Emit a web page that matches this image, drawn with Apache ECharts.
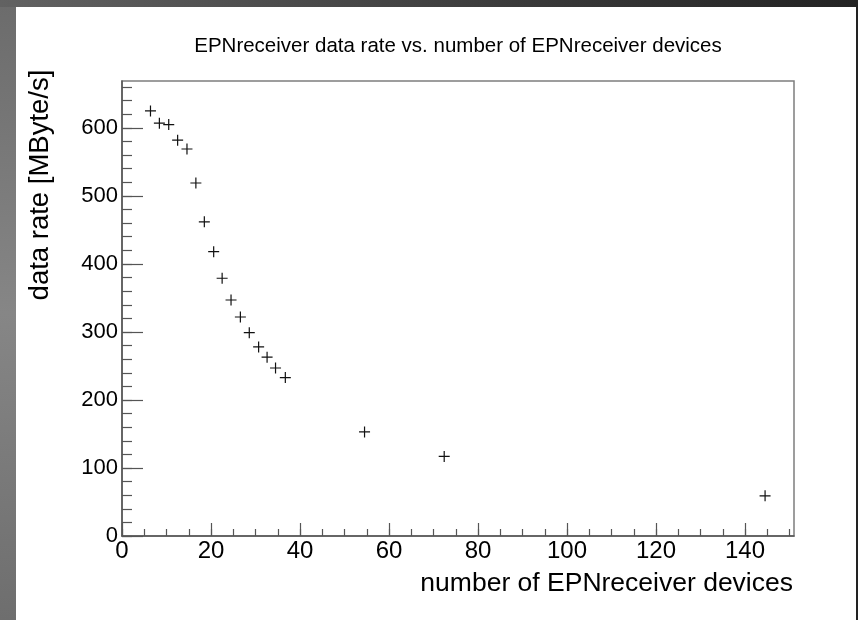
<!DOCTYPE html>
<html>
<head>
<meta charset="utf-8">
<script src="https://cdn.jsdelivr.net/npm/echarts@6/dist/echarts.min.js"></script>
<style>
  html, body { margin: 0; padding: 0; width: 858px; height: 620px; overflow: hidden; }
  body { position: relative; background: #fff; }
  #topband { position: absolute; left: 0; top: 0; width: 858px; height: 7px;
    background: linear-gradient(to right, #626262, #3a3a3a 60%, #232323); }
  #leftband { position: absolute; left: 0; top: 7px; width: 16px; height: 613px;
    background: linear-gradient(to bottom, #6c6c6c, #868686 50%, #6e6e6e); }
  #rightband { position: absolute; right: 0; top: 7px; width: 2px; height: 613px; background: #222; }
  #chart { position: absolute; left: 0; top: 0; width: 858px; height: 620px; }
</style>
</head>
<body>
<div id="topband"></div>
<div id="leftband"></div>
<div id="rightband"></div>
<div id="chart"></div>
<script>
// ---- data ----
const devices = [6.4, 8.4, 10.5, 12.5, 14.6, 16.6, 18.5, 20.6, 22.5, 24.5, 26.6, 28.6, 30.7, 32.6, 34.5, 36.7, 54.5, 72.4, 144.5];
const dataRate = [625, 607, 605, 582, 569, 519, 462, 418, 379, 347, 322, 299, 278, 263, 247, 233, 153, 117, 59];
const xTickLabels = [0, 20, 40, 60, 80, 100, 120, 140];
const yTickLabels = [0, 100, 200, 300, 400, 500, 600];
const xMinorStep = 5;
const yMinorStep = 20;

const titleText = 'EPNreceiver data rate vs. number of EPNreceiver devices';
const xTitle = 'number of EPNreceiver devices';
const yTitle = 'data rate [MByte/s]';

const X_MIN = 0, X_MAX = 151, Y_MIN = 0, Y_MAX = 669;
const FONT = '"Liberation Sans", Arial, Helvetica, sans-serif';
const AXIS_COLOR = '#555';
const FRAME_COLOR = '#7d7d7d';

const points = devices.map((d, i) => [d, dataRate[i]]);
function stepsBelow(max, step) { const out = []; for (let v = 0; v <= max; v += step) out.push(v); return out; }
const xMinorTicks = stepsBelow(X_MAX - 0.5, xMinorStep);
const yMinorTicks = stepsBelow(Y_MAX - 0.5, yMinorStep);

const chart = echarts.init(document.getElementById('chart'), null, { renderer: 'canvas' });

chart.setOption({
  backgroundColor: 'transparent',
  animation: false,
  title: {
    text: titleText,
    left: 458,
    textAlign: 'center',
    top: 36,
    padding: 0,
    textStyle: { fontFamily: FONT, fontSize: 20.5, fontWeight: 'normal', color: '#000' }
  },
  grid: {
    left: 122, right: 64, top: 81, bottom: 84,
    containLabel: false, outerBoundsMode: 'none',
    show: true, borderColor: FRAME_COLOR, borderWidth: 1.5, backgroundColor: 'transparent'
  },
  graphic: [
    {
      type: 'text', x: 793, y: 584, silent: true,
      style: { text: xTitle, font: '26.5px ' + FONT, fill: '#000', align: 'right', verticalAlign: 'middle' }
    },
    {
      type: 'text', x: 40, y: 185, rotation: Math.PI / 2, silent: true,
      style: { text: yTitle, font: '27.5px ' + FONT, fill: '#000', align: 'center', verticalAlign: 'middle' }
    }
  ],
  xAxis: [
    {
      type: 'value', min: X_MIN, max: X_MAX,
      axisLine: { show: true, onZero: false, lineStyle: { color: AXIS_COLOR, width: 1.5 } },
      axisTick: { show: true, inside: true, length: 7, customValues: xMinorTicks, lineStyle: { color: AXIS_COLOR, width: 1.2 } },
      axisLabel: { show: false },
      splitLine: { show: false }
    },
    {
      type: 'value', min: X_MIN, max: X_MAX, position: 'bottom', offset: 0,
      axisLine: { show: false },
      axisTick: { show: true, inside: true, length: 13, customValues: xTickLabels, lineStyle: { color: AXIS_COLOR, width: 1.2 } },
      axisLabel: { show: true, margin: 3, customValues: xTickLabels, fontFamily: FONT, fontSize: 24, color: '#000' },
      splitLine: { show: false }
    }
  ],
  yAxis: [
    {
      type: 'value', min: Y_MIN, max: Y_MAX, position: 'left',
      axisLine: { show: true, onZero: false, lineStyle: { color: AXIS_COLOR, width: 1.5 } },
      axisTick: { show: true, inside: true, length: 10, customValues: yMinorTicks, lineStyle: { color: AXIS_COLOR, width: 1.2 } },
      axisLabel: { show: false },
      splitLine: { show: false }
    },
    {
      type: 'value', min: Y_MIN, max: Y_MAX, position: 'left', offset: 0,
      axisLine: { show: false },
      axisTick: { show: true, inside: true, length: 21, customValues: yTickLabels, lineStyle: { color: AXIS_COLOR, width: 1.2 } },
      axisLabel: { show: true, margin: 4, customValues: yTickLabels, fontFamily: FONT, fontSize: 22, color: '#000' },
      splitLine: { show: false }
    }
  ],
  series: [
    {
      type: 'scatter',
      xAxisIndex: 0, yAxisIndex: 0,
      data: points,
      symbol: 'path://M0,4.9H11V6.1H0Z M4.9,0H6.1V11H4.9Z',
      symbolSize: 11,
      itemStyle: { color: '#111', opacity: 1 },
      emphasis: { disabled: true }
    }
  ]
});
</script>
</body>
</html>
